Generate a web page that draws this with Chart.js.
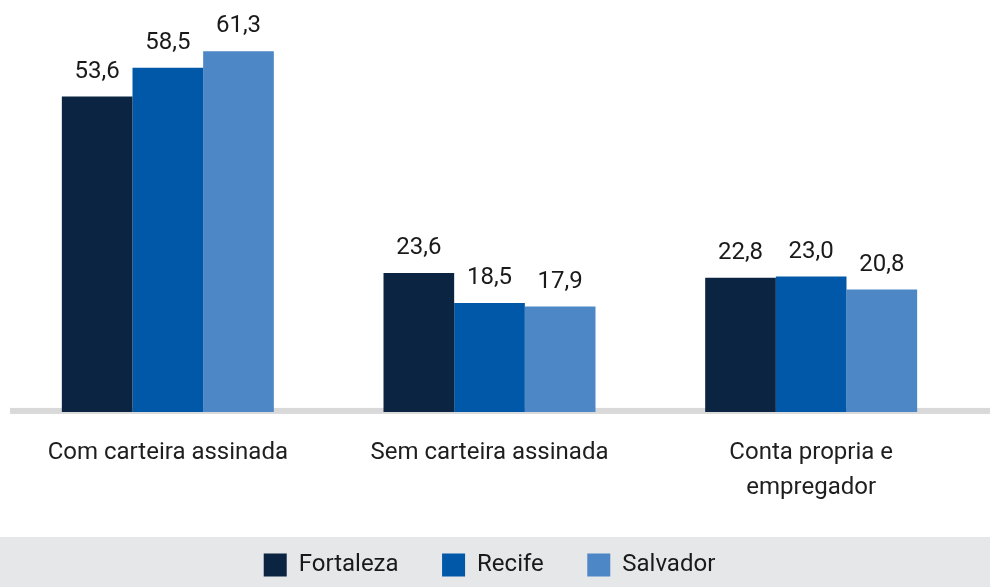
<!DOCTYPE html>
<html>
<head>
<meta charset="utf-8">
<script src="https://cdn.jsdelivr.net/npm/chart.js@4/dist/chart.umd.min.js"></script>
<style>
  html, body { margin: 0; padding: 0; background: #ffffff; }
  #wrap { width: 990px; height: 587px; }
</style>
</head>
<body>
<div id="wrap"><canvas id="chart" width="990" height="587"></canvas></div>
<script>
const categories = ["Com carteira assinada", "Sem carteira assinada", ["Conta propria e", "empregador"]];
const cities = ["Fortaleza", "Recife", "Salvador"];
const fortaleza = [53.6, 23.6, 22.8];
const recife = [58.5, 18.5, 23.0];
const salvador = [61.3, 17.9, 20.8];
const colors = ["#0b2442", "#0158a8", "#4d87c6"];

const fontFamily = "Roboto, 'Open Sans', sans-serif";

// faixa cinza da legenda e linha de base
const backgroundPlugin = {
  id: "backgroundPlugin",
  beforeDraw(chart) {
    const ctx = chart.ctx;
    const legend = chart.legend;
    ctx.save();
    ctx.fillStyle = "#e6e7e9";
    ctx.fillRect(0, legend.bottom - 50, chart.width, 50);
    ctx.fillStyle = "#d9d9d9";
    ctx.fillRect(10, chart.chartArea.bottom - 4, chart.width - 10, 6);
    ctx.restore();
  },
};

// rotulos de valor acima das barras
const valueLabels = {
  id: "valueLabels",
  afterDatasetsDraw(chart) {
    const ctx = chart.ctx;
    ctx.save();
    ctx.font = "24px " + fontFamily;
    ctx.fillStyle = "#1a1a1a";
    ctx.textAlign = "center";
    ctx.textBaseline = "alphabetic";
    chart.data.datasets.forEach((ds, i) => {
      chart.getDatasetMeta(i).data.forEach((bar, j) => {
        const text = ds.data[j].toFixed(1).replace(".", ",");
        ctx.fillText(text, bar.x, bar.y - 19);
      });
    });
    ctx.restore();
  },
};

const chart = new Chart(document.getElementById("chart"), {
  type: "bar",
  data: {
    labels: categories,
    datasets: [
      { label: cities[0], data: fortaleza, backgroundColor: colors[0] },
      { label: cities[1], data: recife, backgroundColor: colors[1] },
      { label: cities[2], data: salvador, backgroundColor: colors[2] },
    ],
  },
  options: {
    responsive: false,
    animation: false,
    layout: { padding: { left: 7, right: 18, top: 0, bottom: 0 } },
    datasets: {
      bar: { categoryPercentage: 0.659, barPercentage: 1.0, borderWidth: 0 },
    },
    scales: {
      x: {
        grid: { display: false, drawTicks: false },
        border: { display: false },
        ticks: {
          color: "#1e1e1e",
          padding: 24,
          font: { family: fontFamily, size: 24, lineHeight: 1.46 },
        },
        afterFit(scale) {
          scale.height -= 20.5;
        },
      },
      y: { display: false, min: 0, max: 70 },
    },
    plugins: {
      legend: {
        position: "bottom",
        labels: {
          boxWidth: 23,
          boxHeight: 23,
          padding: 43.5,
          color: "#1a1a1a",
          font: { family: fontFamily, size: 24 },
        },
      },
      tooltip: { enabled: false },
    },
  },
  plugins: [backgroundPlugin, valueLabels],
});
</script>
</body>
</html>
